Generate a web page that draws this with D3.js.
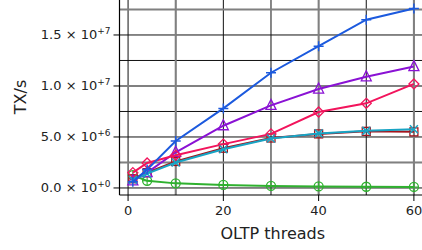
<!DOCTYPE html>
<html>
<head>
  <meta charset="utf-8">
  <title>OLTP throughput</title>
  <style>
    html, body { margin: 0; padding: 0; background: #fff; }
    svg { display: block; font-family: "DejaVu Sans", sans-serif; }
  </style>
</head>
<body>
  <svg id="chart" width="422" height="250"></svg>
  <script src="https://d3js.org/d3.v7.min.js"></script>
  <script>
    const threads = [1, 4, 10, 20, 30, 40, 50, 60];

    const blueTx   = [0.6e6, 1.8e6, 4.6e6, 7.8e6, 11.3e6, 13.9e6, 16.5e6, 17.6e6];
    const purpleTx = [0.7e6, 1.5e6, 3.5e6, 6.1e6, 8.1e6, 9.7e6, 10.9e6, 11.9e6];
    const redTx    = [1.5e6, 2.45e6, 3.2e6, 4.3e6, 5.3e6, 7.45e6, 8.3e6, 10.2e6];
    const brownTx  = [0.9e6, 1.5e6, 2.6e6, 3.9e6, 4.9e6, 5.3e6, 5.55e6, 5.5e6];
    const cyanTx   = [0.8e6, 1.4e6, 2.5e6, 3.8e6, 4.85e6, 5.35e6, 5.6e6, 5.75e6];
    const greenTx  = [1.25e6, 0.7e6, 0.45e6, 0.3e6, 0.2e6, 0.15e6, 0.12e6, 0.1e6];

    const xTicks = [0, 20, 40, 60];
    const yTicks = [0, 5e6, 1e7, 1.5e7];
    const yTickLabels = [["0.0", "+0"], ["5.0", "+6"], ["1.0", "+7"], ["1.5", "+7"]];

    const series = [
      { name: "green",  values: greenTx,  color: "#2fb12f", marker: "circleplus" },
      { name: "brown",  values: brownTx,  color: "#a3141c", marker: "square" },
      { name: "purple", values: purpleTx, color: "#8a12d4", marker: "triangle" },
      { name: "red",    values: redTx,    color: "#f2145c", marker: "diamond" },
      { name: "cyan",   values: cyanTx,   color: "#18a4c4", marker: "x" },
      { name: "blue",   values: blueTx,   color: "#1c5ade", marker: "plus" }
    ];

    const left = 119.5, bottom = 195;
    const svg = d3.select("#chart");

    const x = d3.scaleLinear().domain([-1.8, 61.7]).range([left, 422]);
    const y = d3.scaleLinear().domain([-0.69e6, 18.43e6]).range([bottom, 0]);

    svg.append("defs").append("clipPath").attr("id", "plot")
      .append("rect").attr("x", left).attr("y", 0)
      .attr("width", 422 - left).attr("height", bottom);

    const plot = svg.append("g").attr("clip-path", "url(#plot)");

    // grid: thin black on every step, thicker gray on some of them
    const blackX = [0, 10, 20, 30, 40, 50, 60];
    const grayX = [10, 40, 60];
    const blackY = d3.range(0, 1.76e7, 2.5e6);
    const grayY = [2.5e6, 1e7, 1.75e7];

    plot.selectAll("line.bx").data(blackX).enter().append("line")
      .attr("x1", d => x(d)).attr("x2", d => x(d))
      .attr("y1", 0).attr("y2", bottom)
      .attr("stroke", "#111").attr("stroke-width", 1);
    plot.selectAll("line.by").data(blackY).enter().append("line")
      .attr("y1", d => y(d)).attr("y2", d => y(d))
      .attr("x1", left).attr("x2", 422)
      .attr("stroke", "#111").attr("stroke-width", 1);
    plot.selectAll("line.gx").data(grayX).enter().append("line")
      .attr("x1", d => x(d)).attr("x2", d => x(d))
      .attr("y1", 0).attr("y2", bottom)
      .attr("stroke", "#808080").attr("stroke-width", 2);
    plot.selectAll("line.gy").data(grayY).enter().append("line")
      .attr("y1", d => y(d)).attr("y2", d => y(d))
      .attr("x1", left).attr("x2", 422)
      .attr("stroke", "#808080").attr("stroke-width", 2);

    const line = d3.line().x((d, i) => x(threads[i])).y(d => y(d));

    function drawMarker(g, type, color) {
      const s = 5;
      if (type === "plus") {
        g.append("path").attr("d", `M${-s},0H${s}M0,${-s}V${s}`)
          .attr("stroke", color).attr("stroke-width", 1.5).attr("fill", "none");
      } else if (type === "x") {
        g.append("path").attr("d", `M${-4},${-4}L4,4M${-4},4L4,${-4}`)
          .attr("stroke", color).attr("stroke-width", 1.5).attr("fill", "none");
      } else if (type === "square") {
        g.append("rect").attr("x", -4).attr("y", -4).attr("width", 8).attr("height", 8)
          .attr("stroke", color).attr("stroke-width", 1.3).attr("fill", "none");
      } else if (type === "diamond") {
        g.append("path").attr("d", `M0,${-s}L${s},0L0,${s}L${-s},0Z`)
          .attr("stroke", color).attr("stroke-width", 1.3).attr("fill", "none");
      } else if (type === "triangle") {
        g.append("path").attr("d", `M0,${-s - 1}L${s},${s - 1}L${-s},${s - 1}Z`)
          .attr("stroke", color).attr("stroke-width", 1.3).attr("fill", "none");
      } else if (type === "circleplus") {
        g.append("circle").attr("r", 4.5)
          .attr("stroke", color).attr("stroke-width", 1.3).attr("fill", "none");
        g.append("path").attr("d", "M-4.5,0H4.5M0,-4.5V4.5")
          .attr("stroke", color).attr("stroke-width", 1.1).attr("fill", "none");
      }
    }

    series.forEach(s => {
      plot.append("path").datum(s.values)
        .attr("d", line)
        .attr("fill", "none")
        .attr("stroke", s.color)
        .attr("stroke-width", 2);
      s.values.forEach((v, i) => {
        const g = plot.append("g").attr("transform", `translate(${x(threads[i])},${y(v)})`);
        drawMarker(g, s.marker, s.color);
      });
    });

    // spines
    svg.append("line").attr("x1", left).attr("x2", left).attr("y1", 0).attr("y2", bottom)
      .attr("stroke", "#000").attr("stroke-width", 1.2);
    svg.append("line").attr("x1", left).attr("x2", 422).attr("y1", bottom).attr("y2", bottom)
      .attr("stroke", "#000").attr("stroke-width", 1.2);

    // x ticks
    const xt = svg.append("g");
    xTicks.forEach(t => {
      xt.append("line").attr("x1", x(t)).attr("x2", x(t)).attr("y1", bottom).attr("y2", bottom + 6)
        .attr("stroke", "#000").attr("stroke-width", 1);
      xt.append("text").attr("x", x(t)).attr("y", bottom + 20)
        .attr("text-anchor", "middle").attr("font-size", 13).attr("fill", "#222").text(t);
    });

    // y ticks
    const yt = svg.append("g");
    yTicks.forEach((t, i) => {
      yt.append("line").attr("x1", left - 6).attr("x2", left).attr("y1", y(t)).attr("y2", y(t))
        .attr("stroke", "#000").attr("stroke-width", 1);
      const txt = yt.append("text").attr("x", left - 9).attr("y", y(t) + 4.5)
        .attr("text-anchor", "end").attr("font-size", 13).attr("fill", "#222");
      txt.append("tspan").text(yTickLabels[i][0] + " \u00d7 10");
      txt.append("tspan").attr("dy", -5).attr("font-size", 9).text(yTickLabels[i][1]);
    });

    // axis labels
    svg.append("text").attr("x", (left + 422) / 2 + 2).attr("y", 239)
      .attr("text-anchor", "middle").attr("font-size", 16).attr("fill", "#222")
      .text("OLTP threads");
    svg.append("text").attr("transform", "translate(26,97) rotate(-90)")
      .attr("text-anchor", "middle").attr("font-size", 16).attr("fill", "#222")
      .text("TX/s");
  </script>
</body>
</html>
